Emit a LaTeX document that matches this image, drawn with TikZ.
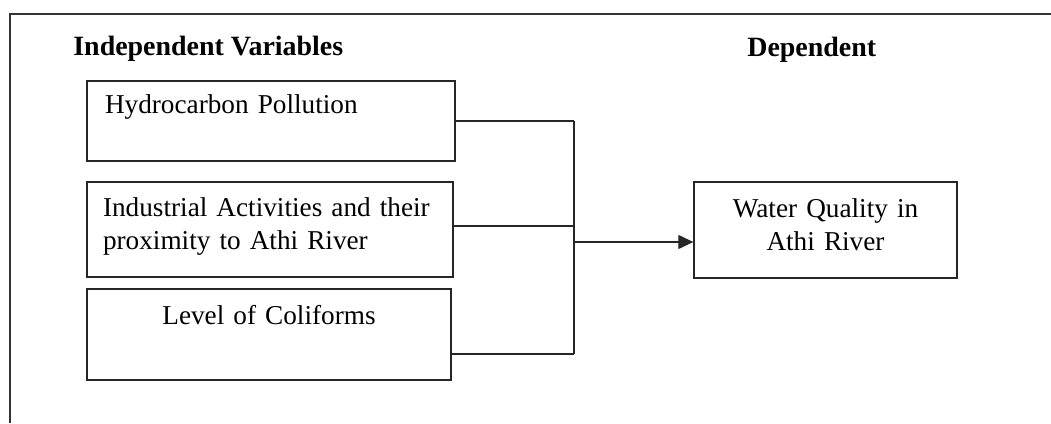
\documentclass[tikz,border=0pt]{standalone}
\usepackage{fontspec}
\setmainfont{Liberation Serif}
\usetikzlibrary{arrows.meta}

\begin{document}
\begin{tikzpicture}[x=0.02cm, y=-0.02cm,
  box/.style={rectangle, draw=black!85, line width=0.8pt, inner ysep=0pt, inner xsep=0.34cm, font=\fontsize{15.5}{19.3}\selectfont},
  head/.style={anchor=base west, inner sep=0pt, font=\fontsize{15.9}{19.3}\selectfont\bfseries},
  link/.style={draw=black!85, line width=0.75pt}]
  \useasboundingbox (0,0) rectangle (1051,423);
  % Frame
  \draw[black!80, line width=1pt] (1051,14) -- (10,14) -- (10,423);
  % Header
  \node (indep) [head] at (73,55) {Independent Variables};
  \node (dep) [head] at (747,56) {Dependent};
  % Nodes
  \node (hydro) [box, inner xsep=0.36cm, text width=6.64cm, align=left, text height=0.64cm, text depth=0.96cm] at (271,121) {Hydrocarbon Pollution};
  \node (indus) [box, inner xsep=0.32cm, text width=6.68cm, align=left, text height=0.68cm, text depth=1.22cm] at (270,229.5) {Industrial Activities and their\\proximity to Athi River};
  \node (coli) [box, text width=6.6cm, align=center, text height=0.7cm, text depth=1.12cm] at (269,334.5) {Level of Coliforms};
  \node (water) [box, text width=4.58cm, align=center, text height=0.7cm, text depth=1.22cm] at (825.5,230) {Water Quality in\\Athi River};
  % Arrows
  \coordinate (bus) at (574,0);
  \coordinate (in2) at ([yshift=0.07cm]indus.east);
  \coordinate (in3) at ([yshift=-0.39cm]coli.east);
  \coordinate (out) at ([yshift=-0.24cm]water.west);
  \draw[link] (hydro.east) -- (hydro.east -| bus);
  \draw[link] (in2) -- (in2 -| bus);
  \draw[link] (in3) -- (in3 -| bus);
  \draw[link] (hydro.east -| bus) -- (in3 -| bus);
  \draw[link, -{Triangle[length=0.3cm, width=0.28cm]}] (out -| bus) -- (out);
\end{tikzpicture}
\end{document}
